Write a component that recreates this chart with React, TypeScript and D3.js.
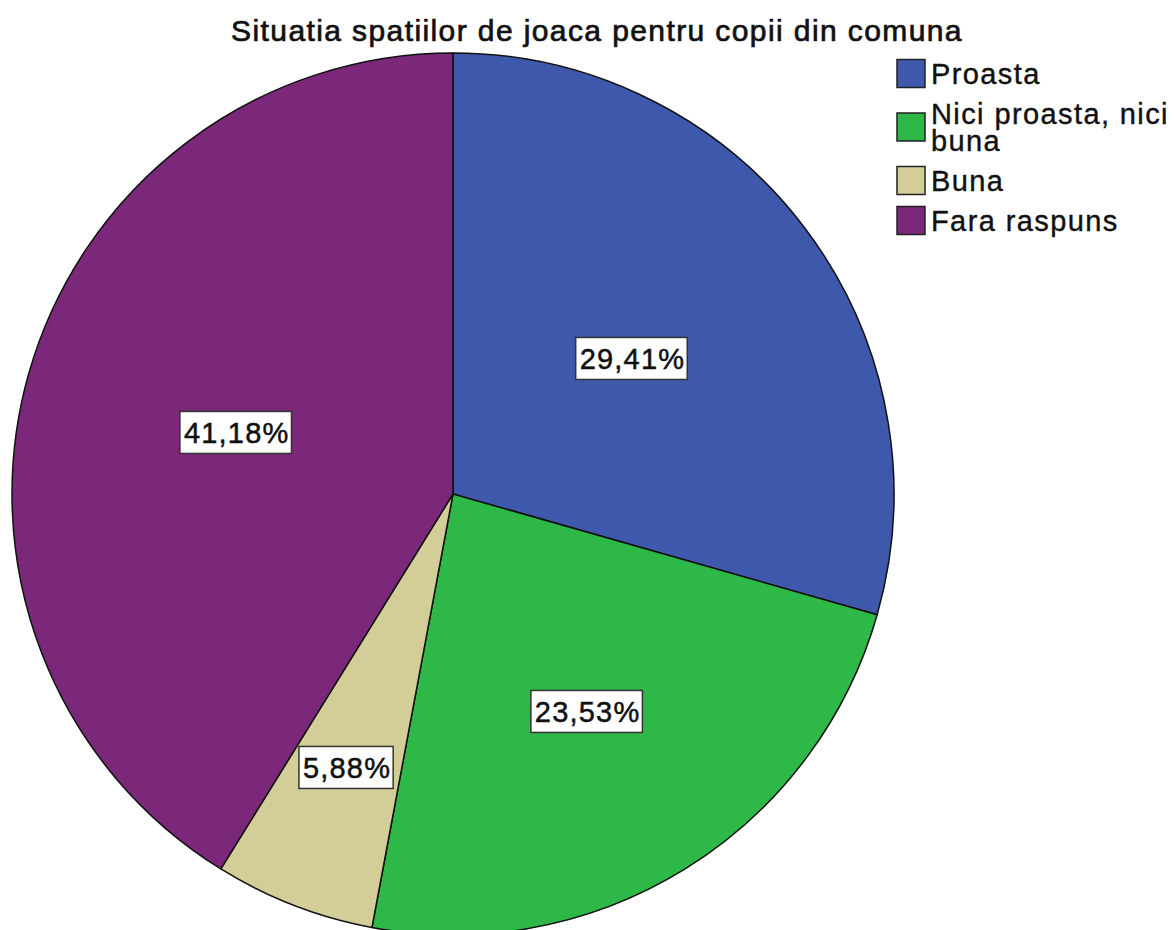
import React, { useEffect, useRef } from "react";
import * as d3 from "d3";

const title = "Situatia spatiilor de joaca pentru copii din comuna";
const categories = ["Proasta", "Nici proasta, nici buna", "Buna", "Fara raspuns"];
const legendLines = [["Proasta"], ["Nici proasta, nici", "buna"], ["Buna"], ["Fara raspuns"]];
const counts = [5, 4, 1, 7];
const percentLabels = ["29,41%", "23,53%", "5,88%", "41,18%"];
const colors = ["#3E58AC", "#2EB848", "#D3CE97", "#7B287A"];

const App = () => {
  const ref = useRef<SVGSVGElement | null>(null);

  useEffect(() => {
    if (!ref.current) return;
    const svg = d3.select(ref.current);
    svg.selectAll("*").remove();

    const width = 1175;
    const height = 930;
    const cx = 453;
    const cy = 494;
    const radius = 441;
    const font = "'Liberation Sans', Arial, sans-serif";

    svg.attr("width", width).attr("height", height);
    svg.append("rect").attr("width", width).attr("height", height).attr("fill", "#fff");

    // title
    svg
      .append("text")
      .attr("x", 597)
      .attr("y", 41)
      .attr("text-anchor", "middle")
      .style("font-family", font)
      .style("font-size", "30px")
      .style("letter-spacing", "1.4px")
      .attr("fill", "#111")
      .attr("stroke", "#111")
      .attr("stroke-width", 0.7)
      .text(title);

    const pie = d3
      .pie<number>()
      .sort(null)
      .value(d => d);
    const arcs = pie(counts);
    const arc = d3.arc<d3.PieArcDatum<number>>().innerRadius(0).outerRadius(radius);

    const g = svg.append("g").attr("transform", `translate(${cx},${cy})`);

    g.selectAll("path.slice")
      .data(arcs)
      .join("path")
      .attr("class", "slice")
      .attr("d", arc)
      .attr("fill", (_, i) => colors[i])
      .attr("stroke", "#111")
      .attr("stroke-width", 1.5)
      .attr("stroke-linejoin", "round");

    // percentage labels: lower-half and small slices sit further out
    const total = d3.sum(counts);
    arcs.forEach((a, i) => {
      const frac = counts[i] / total;
      const mid = (a.startAngle + a.endAngle) / 2;
      let k = 0.51;
      if (-Math.cos(mid) > 0) k += 0.07;
      if (frac < 0.1) k += 0.085;
      const lr = radius * k;
      const x = Math.sin(mid) * lr;
      const y = -Math.cos(mid) * lr;
      const lab = g.append("g").attr("transform", `translate(${x},${y})`);
      const t = lab
        .append("text")
        .attr("text-anchor", "middle")
        .attr("dy", "0.36em")
        .style("font-family", font)
        .style("font-size", "29px")
        .style("letter-spacing", "1.2px")
        .attr("fill", "#111")
        .attr("stroke", "#111")
        .attr("stroke-width", 0.5)
        .text(percentLabels[i]);
      const bb = (t.node() as SVGTextElement).getBBox();
      lab
        .insert("rect", "text")
        .attr("x", bb.x - 4)
        .attr("y", -21)
        .attr("width", bb.width + 6)
        .attr("height", 42)
        .attr("fill", "#fff")
        .attr("stroke", "#333")
        .attr("stroke-width", 1.5);
    });

    // legend: text blocks stacked, swatch centred on each block
    const lineH = 27;
    const gap = 13;
    let top = 60;
    legendLines.forEach((lines, i) => {
      const blockH = lines.length * lineH;
      const swTop = top + blockH / 2 - 14;
      const row = svg.append("g").attr("data-key", categories[i]);
      row
        .append("rect")
        .attr("x", 897)
        .attr("y", swTop)
        .attr("width", 28)
        .attr("height", 28)
        .attr("fill", colors[i])
        .attr("stroke", "#222")
        .attr("stroke-width", 1.5);
      lines.forEach((ln, j) => {
        row
          .append("text")
          .attr("x", 931)
          .attr("y", top + 24 + j * lineH)
          .style("font-family", font)
          .style("font-size", "29px")
          .style("letter-spacing", "1.4px")
          .attr("fill", "#111")
          .attr("stroke", "#111")
          .attr("stroke-width", 0.4)
          .text(ln);
      });
      top += blockH + gap;
    });
  }, []);

  return (
    <svg
      ref={ref}
      style={{ position: "absolute", left: 0, top: 0, display: "block" }}
    />
  );
};

export default App;
